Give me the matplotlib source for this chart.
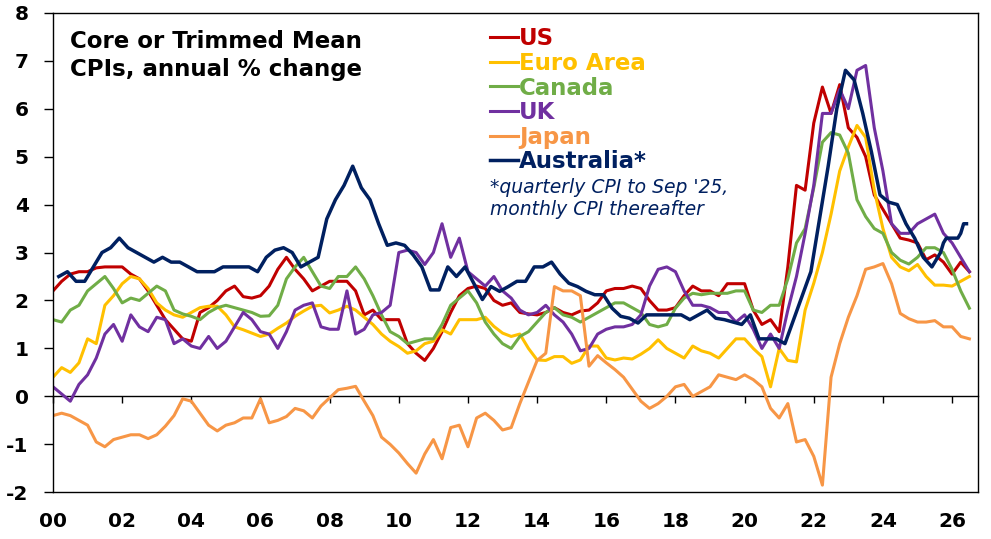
import numpy as np
import matplotlib
matplotlib.use("Agg")
import matplotlib.pyplot as plt

# quarterly samples of the monthly series, Q1 2000 .. mid 2026
years = 2000 + 0.25 * np.arange(107)

us = [2.2, 2.4, 2.55, 2.6,  2.6, 2.68, 2.7, 2.7,  2.7, 2.55, 2.45, 2.2,
      1.9, 1.6, 1.4, 1.2,  1.15, 1.75, 1.85, 2.0,  2.2, 2.3, 2.08, 2.05,
      2.1, 2.3, 2.65, 2.9,  2.65, 2.45, 2.2, 2.3,  2.4, 2.4, 2.4, 2.2,
      1.7, 1.8, 1.6, 1.6,  1.6, 1.1, 0.9, 0.75,  1.0, 1.35, 1.75, 2.1,
      2.25, 2.3, 2.25, 2.0,  1.9, 1.95, 1.75, 1.72,  1.7, 1.75, 1.85, 1.75,
      1.7, 1.78, 1.8, 1.95,  2.2, 2.25, 2.25, 2.3,  2.25, 2.0, 1.8, 1.8,
      1.85, 2.1, 2.3, 2.2,  2.2, 2.1, 2.35, 2.35,  2.35, 1.8, 1.5, 1.6,
      1.35, 2.7, 4.4, 4.3,  5.7, 6.45, 5.9, 6.5,  5.6, 5.4, 5.0, 4.2,
      3.9, 3.6, 3.3, 3.26,  3.2, 2.85, 2.95, 2.8,  2.55, 2.8, 2.6]

euro = [0.4, 0.6, 0.5, 0.7,  1.2, 1.1, 1.9, 2.1,  2.35, 2.5, 2.45, 2.25,
        1.95, 1.8, 1.7, 1.65,  1.75, 1.85, 1.88, 1.88,  1.7, 1.45, 1.39, 1.32,
        1.25, 1.3, 1.42, 1.53,  1.67, 1.78, 1.88, 1.9,  1.74, 1.8, 1.88, 1.8,
        1.65, 1.5, 1.3, 1.15,  1.04, 0.9, 0.95, 1.1,  1.15, 1.39, 1.3, 1.6,
        1.6, 1.6, 1.65, 1.46,  1.32, 1.25, 1.3, 1.0,  0.76, 0.75, 0.83, 0.83,
        0.69, 0.76, 1.05, 1.05,  0.8, 0.76, 0.8, 0.78,  0.88, 1.0, 1.18, 1.0,
        0.9, 0.8, 1.05, 0.95,  0.9, 0.8, 1.0, 1.2,  1.2, 1.0, 0.83, 0.2,
        1.0, 0.75, 0.72, 1.8,  2.36, 3.0, 3.8, 4.7,  5.2, 5.65, 5.4, 4.3,
        3.5, 2.9, 2.7, 2.62,  2.75, 2.5, 2.32, 2.32,  2.3, 2.4, 2.5]

canada = [1.6, 1.55, 1.8, 1.9,  2.2, 2.35, 2.5, 2.25,  1.95, 2.05, 2.0, 2.15,
          2.3, 2.2, 1.8, 1.72,  1.67, 1.6, 1.75, 1.85,  1.9, 1.85, 1.8, 1.75,
          1.67, 1.68, 1.9, 2.45,  2.7, 2.9, 2.6, 2.3,  2.25, 2.5, 2.5, 2.7,
          2.45, 2.1, 1.7, 1.35,  1.25, 1.1, 1.15, 1.2,  1.2, 1.5, 1.9, 2.05,
          2.2, 1.95, 1.55, 1.3,  1.1, 1.0, 1.25, 1.35,  1.55, 1.75, 1.85, 1.7,
          1.65, 1.55, 1.65, 1.75,  1.85, 1.95, 1.95, 1.85,  1.75, 1.5, 1.45, 1.5,
          1.84, 2.05, 2.15, 2.12,  2.15, 2.15, 2.15, 2.2,  2.2, 1.8, 1.75, 1.9,
          1.9, 2.45, 3.2, 3.5,  4.35, 5.3, 5.5, 5.45,  5.07, 4.1, 3.75, 3.5,
          3.4, 3.0, 2.84, 2.76,  2.9, 3.1, 3.1, 3.0,  2.65, 2.2, 1.84]

uk = [0.2, 0.05, -0.1, 0.25,  0.45, 0.8, 1.3, 1.5,  1.15, 1.7, 1.45, 1.35,
      1.65, 1.6, 1.1, 1.2,  1.05, 1.0, 1.25, 1.0,  1.15, 1.45, 1.75, 1.6,
      1.35, 1.3, 1.0, 1.35,  1.8, 1.9, 1.95, 1.45,  1.4, 1.4, 2.2, 1.3,
      1.4, 1.7, 1.75, 1.9,  3.0, 3.05, 3.0, 2.75,  3.0, 3.6, 2.9, 3.3,
      2.6, 2.45, 2.3, 2.5,  2.2, 2.05, 1.8, 1.7,  1.75, 1.9, 1.7, 1.55,
      1.3, 0.95, 1.0, 1.3,  1.4, 1.45, 1.45, 1.5,  1.7, 2.3, 2.65, 2.7,
      2.6, 2.2, 1.9, 1.9,  1.85, 1.75, 1.75, 1.55,  1.7, 1.4, 1.0, 1.3,
      1.0, 1.8, 2.5, 3.4,  4.4, 5.9, 5.9, 6.4,  6.0, 6.8, 6.9, 5.6,
      4.7, 3.6, 3.4, 3.4,  3.6, 3.7, 3.8, 3.4,  3.2, 2.9, 2.6]

japan = [-0.4, -0.35, -0.4, -0.5,  -0.6, -0.95, -1.05, -0.9,  -0.85, -0.8, -0.8, -0.88,
         -0.8, -0.62, -0.4, -0.05,  -0.1, -0.35, -0.6, -0.72,  -0.6, -0.55, -0.45, -0.45,
         -0.05, -0.55, -0.5, -0.42,  -0.25, -0.3, -0.45, -0.2,  -0.03, 0.14, 0.17, 0.21,
         -0.1, -0.4, -0.85, -1.0,  -1.18, -1.4, -1.6, -1.2,  -0.9, -1.3, -0.65, -0.6,
         -1.05, -0.45, -0.35, -0.5,  -0.7, -0.65, -0.15, 0.3,  0.75, 0.9, 2.29, 2.2,
         2.2, 2.1, 0.63, 0.85,  0.7, 0.56, 0.4, 0.15,  -0.1, -0.25, -0.15, 0.0,
         0.2, 0.25, 0.0, 0.1,  0.2, 0.45, 0.4, 0.35,  0.45, 0.35, 0.2, -0.25,
         -0.45, -0.15, -0.95, -0.9,  -1.25, -1.85, 0.4, 1.1,  1.65, 2.1, 2.65, 2.7,
         2.77, 2.35, 1.73, 1.62,  1.55, 1.55, 1.58, 1.45,  1.45, 1.25, 1.2]

# Australia: trimmed mean, quarterly to Sep 2025 then monthly
aus_q = [2.5, 2.6, 2.4, 2.4,  2.7, 3.0, 3.1, 3.3,  3.1, 3.0, 2.9, 2.8,
         2.9, 2.8, 2.8, 2.7,  2.6, 2.6, 2.6, 2.7,  2.7, 2.7, 2.7, 2.6,
         2.9, 3.05, 3.1, 3.0,  2.7, 2.8, 2.9, 3.7,  4.1, 4.4, 4.8, 4.35,
         4.1, 3.6, 3.15, 3.2,  3.15, 2.95, 2.7, 2.22,  2.22, 2.7, 2.5, 2.7,
         2.36, 2.02, 2.29, 2.19,  2.29, 2.4, 2.4, 2.7,  2.7, 2.8, 2.55, 2.36,
         2.29, 2.19, 2.12, 2.12,  1.84, 1.67, 1.63, 1.53,  1.7, 1.7, 1.7, 1.7,
         1.7, 1.6, 1.7, 1.8,  1.63, 1.6, 1.55, 1.5,  1.7, 1.2, 1.2, 1.2,
         1.1, 1.6, 2.1, 2.6,  3.7, 4.8, 6.0, 6.8,  6.6, 5.9, 5.1, 4.2,
         4.05, 4.0, 3.6, 3.3,  2.9, 2.7, 3.0]
aus_m = [3.2, 3.3, 3.3, 3.3, 3.3, 3.3, 3.4, 3.6, 3.6]
aus_x = np.concatenate([2000 + 2 / 12 + 0.25 * np.arange(len(aus_q)),
                        2025 + 9 / 12 + np.arange(len(aus_m)) / 12])
aus = aus_q + aus_m

series = [("US", us, "#C00000"),
          ("Euro Area", euro, "#FFC000"),
          ("Canada", canada, "#70AD47"),
          ("UK", uk, "#7030A0"),
          ("Japan", japan, "#F79646")]

plt.rcParams["font.family"] = ["DejaVu Sans"]
plt.rcParams["font.weight"] = "bold"
plt.rcParams["axes.unicode_minus"] = False

fig = plt.figure(figsize=(9.91, 5.39), dpi=100)
ax = fig.add_axes([0.0535, 0.0866, 0.9334, 0.8898])

for name, vals, col in series:
    ax.plot(years, vals, color=col, lw=2.2, label=name)
ax.plot(aus_x, aus, color="#002060", lw=2.5, label="Australia*")

ax.set_xlim(2000, 2026.75)
ax.set_ylim(-2, 8)
ax.set_yticks(range(-2, 9))
ax.set_xticks(range(2000, 2027, 2))
ax.set_xticklabels([f"{y % 100:02d}" for y in range(2000, 2027, 2)])
ax.tick_params(axis="x", length=0, pad=14, labelsize=14.5)
ax.tick_params(axis="y", length=6.5, width=1, pad=11, labelsize=14.5)
for sp in ax.spines.values():
    sp.set_linewidth(1.0)

# zero line with the year ticks
zero = ax.secondary_xaxis(0.2)
zero.set_xticks(range(2000, 2027, 2))
zero.set_xticklabels([])
zero.tick_params(direction="out", length=5, width=1)
zero.spines["bottom"].set_linewidth(1.0)

leg = ax.legend(loc="upper left", bbox_to_anchor=(0.4724, 0.9696),
                frameon=False, borderpad=0, borderaxespad=0,
                handlelength=1.22, handletextpad=0.05, labelspacing=0.07,
                prop={"size": 16.5, "weight": "bold"}, labelcolor="linecolor")

ax.text(0.0184, 0.9273, "Core or Trimmed Mean", transform=ax.transAxes,
        fontsize=16.5, fontweight="bold", va="baseline")
ax.text(0.0184, 0.8689, "CPIs, annual % change", transform=ax.transAxes,
        fontsize=16.5, fontweight="bold", va="baseline")
ax.text(0.4724, 0.6241, "*quarterly CPI to Sep '25,", transform=ax.transAxes,
        fontsize=13.5, fontweight="normal", style="italic", color="#002060",
        va="baseline")
ax.text(0.4724, 0.5774, "monthly CPI thereafter", transform=ax.transAxes,
        fontsize=13.5, fontweight="normal", style="italic", color="#002060",
        va="baseline")

fig.savefig("out.png", dpi=100)
